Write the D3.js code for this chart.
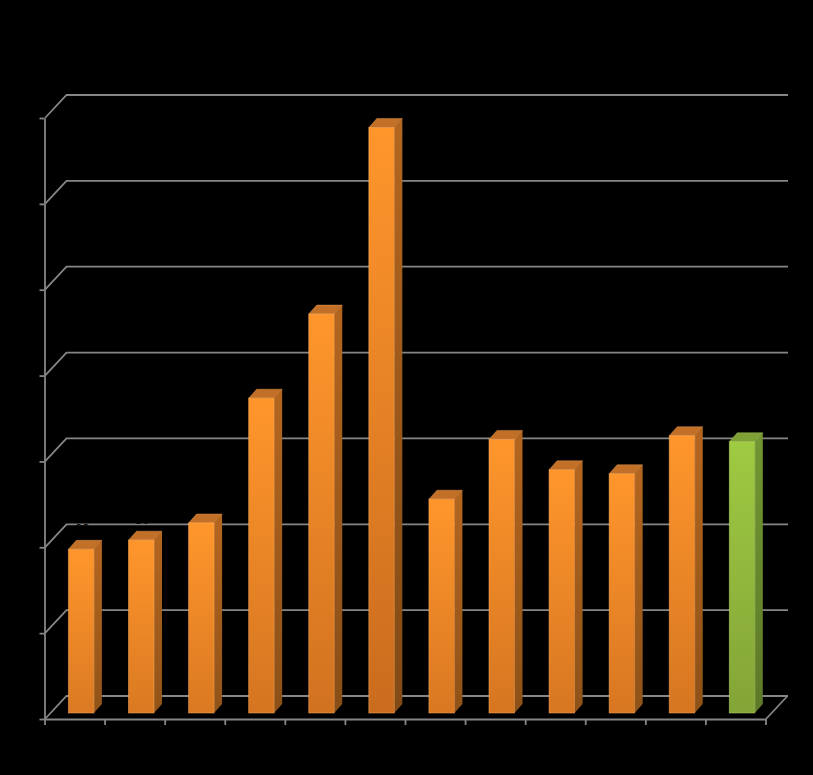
<!DOCTYPE html>
<html><head><meta charset="utf-8">
<style>html,body{margin:0;padding:0;background:#000;overflow:hidden}svg{display:block}</style>
<script src="https://cdn.jsdelivr.net/npm/d3@7"></script></head>
<body><svg id="c" width="813" height="775"></svg>
<script>
const categories = ["1","2","3","4","5","6","7","8","9","10","11","12"];
const values = [28.6,30.2,33.2,55.0,69.7,102.3,37.35,47.8,42.5,41.8,48.45,47.4];
const highlighted = ["12"];
const yTicks = [0,15,30,45,60,75,90,105];

const svg = d3.select("#c");
const grid = "#868686";
const x0 = 45, x1 = 766, yB = 719, yT = 118;
const wallDx = 21.5, wallDy = 23;
const x = d3.scaleBand().domain(categories).range([x0,x1]);
const y = d3.scaleLinear().domain([0,105]).range([yB,yT]);
const barW = 25.5, barInset = 23.4, barLift = 6, depthX = 8, depthY = 9;

const palettes = {
  orange:{front:"#ff962c",frontLow:"#c96c1e",side:"#b4661f",sideLow:"#804a15",top:"#c27028",edge:"#ffb066"},
  green:{front:"#9fca42",frontLow:"#7a9833",side:"#729632",sideLow:"#567026",top:"#7fa035",edge:"#bcdc70"}
};
const defs = svg.append("defs");
const shade = d3.scaleLinear().domain([0,105]).range([0.55,1]);
function grad(id,a,b,t){
  const g = defs.append("linearGradient").attr("id",id).attr("x1",0).attr("y1",0).attr("x2",0).attr("y2",1);
  g.append("stop").attr("offset",0).attr("stop-color",a);
  g.append("stop").attr("offset",1).attr("stop-color",d3.interpolateRgb(a,b)(t));
}

// walls and floor
const walls = svg.append("g").attr("fill","none").attr("stroke",grid).attr("stroke-width",1.8);
yTicks.forEach(t=>{
  walls.append("path").attr("d",d3.line()([[x0,y(t)],[x0+wallDx,y(t)-wallDy],[x1+wallDx+0.5,y(t)-wallDy]]));
});
walls.append("path").attr("d",d3.line()([[x1,yB],[x1+wallDx,yB-wallDy]]));

// axes
const axL = svg.append("g").attr("transform",`translate(${x0-0.5},0)`)
  .call(d3.axisLeft(y).tickValues(yTicks).tickSize(5).tickPadding(6).tickSizeOuter(0));
const axB = svg.append("g").attr("transform",`translate(0,${yB})`)
  .call(d3.axisBottom(x).tickSize(0).tickPadding(10).tickSizeOuter(0));
axB.selectAll(".tickmark").data(d3.range(13)).enter().append("line").attr("class","tickmark")
  .attr("x1",i=>x0+i*x.step()).attr("x2",i=>x0+i*x.step()).attr("y1",0).attr("y2",6);
[axL,axB].forEach(a=>{
  a.selectAll(".domain,line").attr("stroke",grid).attr("stroke-width",1.8);
  a.selectAll("text").attr("fill","#000").attr("font-family","Liberation Sans").attr("font-size",12);
});

// bars
const rows = categories.map((c,i)=>({c,v:values[i],i}));
const bars = svg.selectAll(".bar").data(rows).enter().append("g").attr("class","bar");
bars.each(function(d){
  const p = palettes[highlighted.includes(d.c)?"green":"orange"];
  const t = shade(d.v);
  grad("f"+d.i,p.front,p.frontLow,t);
  grad("s"+d.i,p.side,p.sideLow,t);
  const l = x(d.c)+barInset, r = l+barW, b = y(0)-barLift, h = y(d.v)-barLift;
  const g = d3.select(this);
  const poly = pts => pts.map(q=>q.join(",")).join(" ");
  g.append("polygon").attr("points",poly([[r,h],[r+depthX,h-depthY],[r+depthX,b-depthY],[r,b]]))
    .attr("fill",`url(#s${d.i})`);
  g.append("polygon").attr("points",poly([[l,h],[l+depthX,h-depthY],[r+depthX,h-depthY],[r,h]]))
    .attr("fill",p.top).attr("stroke",p.edge).attr("stroke-opacity",0.45).attr("stroke-width",0.8);
  g.append("rect").attr("x",l).attr("y",h).attr("width",barW).attr("height",b-h)
    .attr("fill",`url(#f${d.i})`).attr("stroke",p.edge).attr("stroke-opacity",0.55).attr("stroke-width",0.9);
});

// data labels: black in the source, visible only where they cross a gridline
svg.selectAll(".lbl").data(rows).enter().append("text").attr("class","lbl")
  .attr("x",d=>x(d.c)+barInset+barW/2+depthX/2-3)
  .attr("y",d=>y(d.v)-barLift-depthY-7)
  .attr("text-anchor","middle").attr("font-family","Liberation Sans").attr("font-size",13)
  .attr("fill","#000").text(d=>Math.round(d.v));
</script></body></html>
